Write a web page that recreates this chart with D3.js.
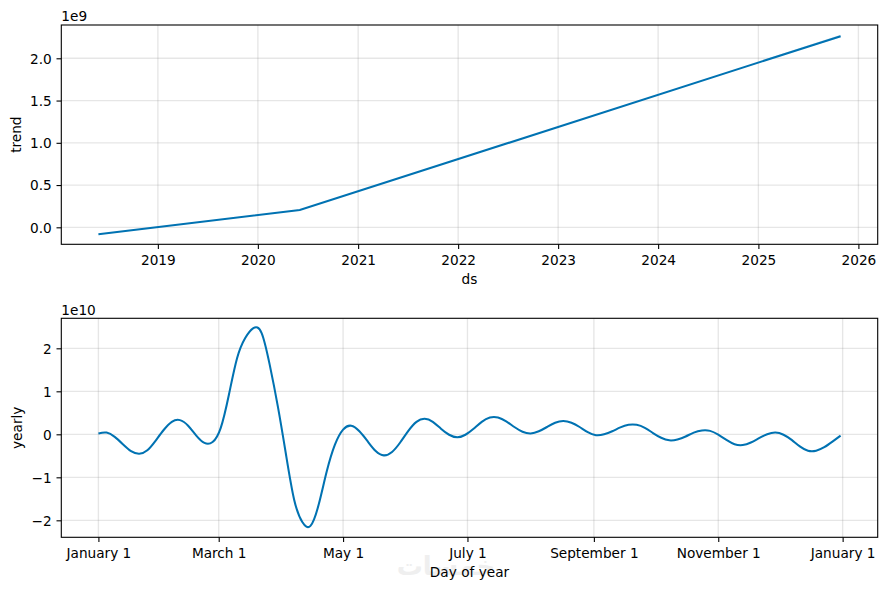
<!DOCTYPE html>
<html><head><meta charset="utf-8">
<script src="https://cdn.jsdelivr.net/npm/d3@7"></script>
<style>
body{margin:0;background:#fff;}
svg text{font-family:"DejaVu Sans",sans-serif;}
</style></head>
<body><svg id="c" width="886" height="590"></svg>
<script>
// ---- data ----
const trendDates = ["2018-05-29", "2020-06-02", "2025-10-28"];
const trendValues = [-0.083e9, 0.205e9, 2.262e9];
const bandDates = ["2024-12-01", "2025-10-28"];
const bandLower = [1.93e9, 2.245e9];
const bandUpper = [1.93e9, 2.279e9];
const trendTicks = [2019, 2020, 2021, 2022, 2023, 2024, 2025, 2026];
const trendYTicks = [0.0, 0.5, 1.0, 1.5, 2.0];

// day of year (0 = January 1) and yearly component (units of 1e10)
const yearlyDays = [0, 4, 8, 12, 16, 20, 24, 28, 32, 36, 40, 44, 48, 52, 56, 60, 64, 68, 72, 76, 80, 84, 88, 92, 96, 100, 104, 108, 112, 116, 120, 124, 128, 132, 136, 140, 144, 148, 152, 156, 160, 164, 168, 172, 176, 180, 184, 188, 192, 196, 200, 204, 208, 212, 216, 220, 224, 228, 232, 236, 240, 244, 248, 252, 256, 260, 264, 268, 272, 276, 280, 284, 288, 292, 296, 300, 304, 308, 312, 316, 320, 324, 328, 332, 336, 340, 344, 348, 352, 356, 360, 364];
const yearlyE10 = [0.02, 0.04, -0.06, -0.23, -0.39, -0.45, -0.37, -0.15, 0.10, 0.29, 0.33, 0.20, -0.03, -0.20, -0.18, 0.15, 0.92, 1.77, 2.24, 2.47, 2.36, 1.62, 0.65, -0.47, -1.52, -2.04, -2.13, -1.64, -0.86, -0.24, 0.11, 0.20, 0.07, -0.16, -0.39, -0.49, -0.41, -0.19, 0.08, 0.29, 0.36, 0.29, 0.13, -0.01, -0.07, -0.01, 0.13, 0.29, 0.39, 0.39, 0.30, 0.17, 0.06, 0.02, 0.07, 0.17, 0.27, 0.31, 0.27, 0.17, 0.05, -0.02, 0.00, 0.07, 0.16, 0.22, 0.22, 0.15, 0.03, -0.08, -0.14, -0.12, -0.05, 0.04, 0.09, 0.08, -0.01, -0.13, -0.23, -0.25, -0.19, -0.09, 0.00, 0.04, -0.01, -0.13, -0.28, -0.38, -0.38, -0.30, -0.17, -0.03];
const yearlyTickDates = ["2017-01-01", "2017-03-01", "2017-05-01", "2017-07-01", "2017-09-01", "2017-11-01", "2018-01-01"];
const yearlyYTicks = [-2, -1, 0, 1, 2];

// ---- style ----
const LINE = "#0072B2";
const FS = 13.67;
const svg = d3.select("#c");
const parse = d3.utcParse("%Y-%m-%d");
const base = Date.UTC(2017, 0, 1);
const dayToDate = d => new Date(base + d * 86400000);

function panel(opts) {
  const {x0, x1, y0, y1, xScale, yScale, xTicks, xFmt, yTicks, yFmt, ylabel, xlabel, offset} = opts;
  const g = svg.append("g");
  g.append("g").selectAll("line").data(xTicks).join("line")
    .attr("x1", d => xScale(d)).attr("x2", d => xScale(d))
    .attr("y1", y0).attr("y2", y1)
    .attr("stroke", "#808080").attr("stroke-opacity", 0.2).attr("stroke-width", 1.35);
  g.append("g").selectAll("line").data(yTicks).join("line")
    .attr("y1", d => yScale(d)).attr("y2", d => yScale(d))
    .attr("x1", x0).attr("x2", x1)
    .attr("stroke", "#808080").attr("stroke-opacity", 0.2).attr("stroke-width", 1.35);
  const xa = d3.axisBottom(xScale).tickValues(xTicks).tickFormat(xFmt).tickSizeOuter(0).tickSize(4.8).tickPadding(4.8);
  const gx = g.append("g").attr("transform", `translate(0,${y1})`).call(xa);
  const ya = d3.axisLeft(yScale).tickValues(yTicks).tickFormat(yFmt).tickSizeOuter(0).tickSize(4.8).tickPadding(4.8);
  const gy = g.append("g").attr("transform", `translate(${x0},0)`).call(ya);
  [gx, gy].forEach(a => {
    a.select(".domain").remove();
    a.selectAll(".tick line").attr("stroke", "#000").attr("stroke-width", 1.1);
    a.selectAll(".tick text").attr("fill", "#000").style("font-size", FS + "px").style("font-family", "DejaVu Sans");
  });
  gx.selectAll(".tick text").attr("dy", null).attr("y", 21).attr("dominant-baseline", "alphabetic");
  gy.selectAll(".tick text").attr("dy", "0.36em");
  g.append("text").attr("x", (x0 + x1) / 2).attr("y", y1 + 40).attr("text-anchor", "middle")
    .style("font-size", FS + "px").text(xlabel);
  g.append("text").attr("transform", `translate(${opts.ylx},${(y0 + y1) / 2}) rotate(-90)`)
    .attr("text-anchor", "middle").style("font-size", FS + "px").text(ylabel);
  g.append("text").attr("x", x0).attr("y", y0 - 3.6).style("font-size", FS + "px").text(offset);
  return g;
}

// ---- top panel: trend ----
const T = {x0: 61.3, x1: 877.7, y0: 25, y1: 244.3};
const tDates = trendDates.map(parse);
const tMin = tDates[0], tMax = tDates[tDates.length - 1];
const span = tMax - tMin;
const xT = d3.scaleUtc().domain([new Date(+tMin - span * 0.05), new Date(+tMax + span * 0.05)]).range([T.x0, T.x1]);
const yT = d3.scaleLinear().domain([-0.201e9, 2.394e9]).range([T.y1, T.y0]);
const gT = panel({
  ...T, xScale: xT, yScale: yT,
  xTicks: trendTicks.map(y => new Date(Date.UTC(y, 0, 1))), xFmt: d3.utcFormat("%Y"),
  yTicks: trendYTicks.map(v => v * 1e9), yFmt: v => (v / 1e9).toFixed(1),
  ylabel: "trend", xlabel: "ds", offset: "1e9", ylx: 20.5
});
const bD = bandDates.map(parse);
gT.append("path").datum(bD.map((d, i) => [d, bandLower[i], bandUpper[i]]))
  .attr("fill", LINE).attr("fill-opacity", 0.2)
  .attr("d", d3.area().x(d => xT(d[0])).y0(d => yT(d[1])).y1(d => yT(d[2])));
gT.append("path").datum(tDates.map((d, i) => [d, trendValues[i]]))
  .attr("fill", "none").attr("stroke", LINE).attr("stroke-width", 2.05)
  .attr("d", d3.line().x(d => xT(d[0])).y(d => yT(d[1])));
gT.append("rect").attr("x", T.x0).attr("y", T.y0).attr("width", T.x1 - T.x0).attr("height", T.y1 - T.y0)
  .attr("fill", "none").attr("stroke", "#000").attr("stroke-width", 1.1);

// ---- bottom panel: yearly ----
const B = {x0: 61.3, x1: 877.7, y0: 318.3, y1: 537.3};
const dMin = dayToDate(yearlyDays[0]), dMax = dayToDate(yearlyDays[yearlyDays.length - 1]);
const dspan = dMax - dMin;
const xB = d3.scaleUtc().domain([new Date(+dMin - dspan * 0.05), new Date(+dMax + dspan * 0.05)]).range([B.x0, B.x1]);
const yB = d3.scaleLinear().domain([-2.395e10, 2.698e10]).range([B.y1, B.y0]);
const minus = s => s.replace("-", "\u2212");
const gB = panel({
  ...B, xScale: xB, yScale: yB,
  xTicks: yearlyTickDates.map(parse), xFmt: d3.utcFormat("%B %-d"),
  yTicks: yearlyYTicks.map(v => v * 1e10), yFmt: v => minus(String(Math.round(v / 1e10))),
  ylabel: "yearly", xlabel: "Day of year", offset: "1e10", ylx: 22
});
// faint watermark
svg.insert("text", ":first-child").attr("x", 446).attr("y", 575).attr("text-anchor", "middle")
  .attr("direction", "rtl")
  .style("font-size", "26px").style("font-weight", "bold").attr("fill", "#efefef").text("خمسات");
gB.append("path").datum(yearlyDays.map((d, i) => [dayToDate(d), yearlyE10[i] * 1e10]))
  .attr("fill", "none").attr("stroke", LINE).attr("stroke-width", 2.05)
  .attr("d", d3.line().curve(d3.curveNatural).x(d => xB(d[0])).y(d => yB(d[1])));
gB.append("rect").attr("x", B.x0).attr("y", B.y0).attr("width", B.x1 - B.x0).attr("height", B.y1 - B.y0)
  .attr("fill", "none").attr("stroke", "#000").attr("stroke-width", 1.1);
</script></body></html>
